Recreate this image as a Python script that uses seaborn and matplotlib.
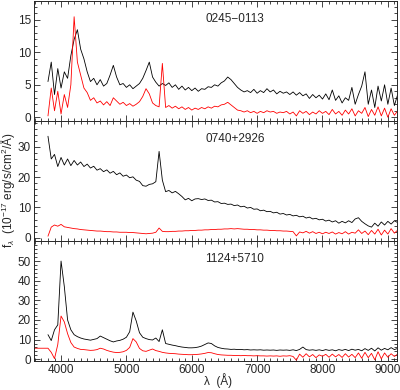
import matplotlib
matplotlib.use('Agg')
import matplotlib.pyplot as plt
from matplotlib.ticker import MultipleLocator, AutoMinorLocator
import seaborn as sns
import numpy as np

sns.set_style('ticks')
plt.rcParams['font.family'] = ['Liberation Sans', 'DejaVu Sans']
plt.rcParams['mathtext.fontset'] = 'custom'
plt.rcParams['mathtext.rm'] = 'Liberation Sans'
plt.rcParams['mathtext.it'] = 'Liberation Sans:italic'

# --- wavelength grid (A) ---
wave = [3800, 3850, 3900, 3950, 4000, 4050, 4100, 4150, 4200, 4250,
        4300, 4350, 4400, 4450, 4500, 4550, 4600, 4650, 4700, 4750,
        4800, 4850, 4900, 4950, 5000, 5050, 5100, 5150, 5200, 5250,
        5300, 5350, 5400, 5450, 5500, 5550, 5600, 5650, 5700, 5750,
        5800, 5850, 5900, 5950, 6000, 6050, 6100, 6150, 6200, 6250,
        6300, 6350, 6400, 6450, 6500, 6550, 6600, 6650, 6700, 6750,
        6800, 6850, 6900, 6950, 7000, 7050, 7100, 7150, 7200, 7250,
        7300, 7350, 7400, 7450, 7500, 7550, 7600, 7650, 7700, 7750,
        7800, 7850, 7900, 7950, 8000, 8050, 8100, 8150, 8200, 8250,
        8300, 8350, 8400, 8450, 8500, 8550, 8600, 8650, 8700, 8750,
        8800, 8850, 8900, 8950, 9000, 9050, 9100, 9150]

# --- 0245-0113 ---
black1 = [5.5, 8.5, 3.5, 7.5, 4.5, 7.0, 6.0, 9.5, 12.0, 13.5,
          10.5, 9.0, 7.0, 5.5, 6.0, 5.0, 5.8, 4.8, 5.2, 6.5,
          8.0, 6.2, 5.0, 5.2, 4.6, 5.0, 4.4, 4.8, 5.2, 6.0,
          7.2, 8.5, 6.2, 5.4, 4.8, 5.2, 4.9, 5.3, 4.6, 5.0,
          4.3, 4.8, 4.2, 4.6, 4.1, 4.5, 4.0, 4.4, 4.3, 4.7,
          4.6, 5.0, 4.8, 5.3, 5.6, 6.2, 5.8, 5.2, 4.6, 4.2,
          3.9, 4.1, 3.8, 4.3, 3.7, 4.1, 3.8, 4.4, 3.9, 4.2,
          3.6, 4.0, 3.7, 3.9, 3.5, 3.9, 3.4, 3.8, 3.3, 3.6,
          2.9, 3.5, 3.0, 3.4, 2.8, 3.6, 2.7, 4.2, 2.6, 3.3,
          2.2, 3.0, 2.6, 4.6, 2.0, 3.5, 4.8, 7.0, 2.0, 4.2,
          1.5, 4.8, 2.5, 5.0, 2.0, 4.5, 1.8, 3.5]
red1 = [0.2, 4.5, 1.0, 4.0, 0.5, 3.5, 1.5, 5.0, 15.5, 8.5,
        6.5, 4.5, 3.8, 2.6, 3.0, 2.2, 2.5, 1.9, 2.4, 1.8,
        3.0, 2.5, 2.0, 2.3, 1.8, 2.1, 1.7, 2.0, 2.4, 3.2,
        4.4, 3.6, 2.2, 1.8, 1.6, 8.3, 1.5, 1.8, 1.4, 1.7,
        1.3, 1.6, 1.2, 1.5, 1.1, 1.4, 1.2, 1.5, 1.3, 1.6,
        1.4, 1.7, 1.6, 1.9, 2.0, 2.3, 1.9, 1.5, 1.1, 1.0,
        0.8, 1.0, 0.7, 0.9, 0.6, 0.9, 0.7, 1.0, 0.8, 0.9,
        0.6, 0.8, 0.7, 0.9, 0.5, 0.8, 0.2, 1.0, 0.6, 0.9,
        0.4, 0.8, 0.5, 1.0, 0.6, 0.9, 0.4, 1.2, 0.5, 0.9,
        0.3, 1.1, 0.5, 1.3, 0.2, 1.0, 0.6, 1.5, 0.1, 1.2,
        0.3, 1.6, 0.2, 1.4, 0.0, 1.3, 0.3, 1.0]

# --- 0740+2926 ---
black2 = [33.5, 26.0, 27.5, 23.5, 26.5, 24.0, 26.0, 23.8, 25.5, 24.0,
          25.0, 23.5, 24.3, 23.0, 23.6, 22.3, 22.8, 21.8, 22.4, 21.3,
          21.9, 20.8, 21.4, 20.3, 20.7, 19.8, 20.1, 19.0, 18.6, 17.2,
          17.0, 17.6, 17.8, 18.5, 28.5, 19.0, 15.2, 15.6, 14.8, 15.3,
          14.5, 13.6, 12.5, 13.0, 12.2, 12.8, 12.9, 12.6, 12.8, 12.3,
          12.4, 11.8, 11.9, 11.3, 11.4, 11.0, 11.1, 10.6, 10.8, 10.2,
          10.4, 9.8, 10.0, 9.4, 9.5, 8.9, 9.1, 8.6, 8.7, 8.2,
          8.4, 7.8, 8.0, 7.5, 7.7, 7.2, 7.4, 6.9, 7.1, 6.5,
          6.8, 6.2, 6.4, 5.9, 6.1, 5.5, 5.8, 5.2, 5.6, 4.8,
          5.4, 4.9, 5.6, 5.0, 6.2, 6.6, 5.4, 4.6, 3.9, 3.5,
          4.8, 3.8, 5.2, 4.2, 5.4, 4.5, 5.6, 5.0]
red2 = [0.5, 3.5, 4.2, 3.8, 4.4, 3.6, 3.4, 3.2, 3.0, 2.9,
        2.7, 2.6, 2.5, 2.4, 2.3, 2.2, 2.2, 2.1, 2.0, 2.0,
        1.9, 1.9, 1.8, 1.8, 1.8, 1.7, 1.7, 1.6, 1.5, 1.4,
        1.3, 1.4, 1.5, 1.8, 3.2, 2.1, 2.0, 2.0, 2.1, 2.1,
        2.2, 2.2, 2.3, 2.3, 2.4, 2.4, 2.5, 2.5, 2.6, 2.6,
        2.7, 2.7, 2.8, 2.8, 2.9, 2.9, 3.0, 2.9, 3.0, 2.9,
        2.8, 2.8, 2.7, 2.7, 2.6, 2.6, 2.5, 2.5, 2.4, 2.4,
        2.3, 2.3, 2.2, 2.2, 2.1, 2.0, 0.6, 1.9, 1.6, 2.1,
        1.5, 2.0, 1.4, 1.8, 1.3, 1.8, 1.4, 1.9, 1.2, 1.7,
        1.3, 2.0, 1.2, 1.8, 1.5, 2.6, 1.4, 2.2, 1.0, 2.4,
        1.2, 2.8, 0.9, 2.5, 1.2, 3.0, 1.5, 2.5]

# --- 1124+5710 ---
black3 = [12.5, 9.5, 15.0, 17.5, 50.0, 37.0, 20.0, 15.0, 12.5, 11.5,
          10.8, 10.3, 10.0, 9.7, 10.1, 10.5, 11.8, 11.0, 10.2, 9.4,
          8.8, 9.3, 9.6, 10.2, 11.2, 14.0, 24.0, 19.5, 13.5, 11.2,
          10.5, 10.0, 9.8, 10.8, 9.0, 15.0, 8.0, 7.6, 7.2, 6.9,
          6.5, 6.2, 6.0, 5.8, 5.8, 5.9, 6.2, 6.7, 7.5, 8.3,
          8.0, 6.8, 6.0, 5.6, 5.3, 5.2, 5.0, 5.1, 4.9, 5.0,
          4.8, 4.9, 4.7, 4.8, 4.7, 4.8, 4.6, 4.7, 4.6, 4.7,
          4.5, 4.7, 4.6, 4.7, 4.5, 4.8, 4.4, 5.0, 6.2, 4.9,
          4.6, 4.8, 4.5, 4.8, 4.4, 4.9, 4.5, 4.8, 4.3, 4.9,
          4.5, 5.0, 4.4, 5.1, 4.6, 5.0, 4.3, 5.4, 4.5, 5.6,
          4.2, 5.8, 4.6, 5.5, 4.8, 5.9, 4.9, 5.5]
red3_wave = [3580] + wave
red3 = [5.6,
        5.6, 3.5, 0.3, 7.5, 22.0, 19.0, 13.0, 8.5, 6.2, 5.5,
        5.0, 4.9, 4.7, 4.5, 4.6, 4.9, 5.6, 5.2, 4.5, 4.0,
        3.6, 3.4, 3.5, 3.8, 4.5, 6.0, 10.5, 8.8, 5.5, 4.3,
        4.0, 4.6, 5.2, 4.4, 4.0, 3.5, 3.2, 3.0, 2.9, 2.8,
        2.6, 2.5, 2.4, 2.3, 2.3, 2.4, 2.5, 2.7, 3.0, 3.4,
        3.3, 2.8, 2.4, 2.2, 2.1, 2.0, 2.0, 1.9, 1.9, 1.8,
        1.9, 1.8, 1.8, 1.7, 1.8, 1.7, 1.7, 1.6, 1.7, 1.6,
        1.7, 1.5, 1.7, 1.6, 1.8, 1.4, -0.5, 2.6, 1.0, 2.8,
        1.2, 2.4, 0.8, 2.2, 1.5, 2.5, 1.0, 2.6, 1.2, 2.4,
        0.9, 2.8, 1.1, 2.5, 0.8, 3.2, 0.5, 3.5, 0.8, 3.0,
        -0.3, 3.8, 0.2, 3.2, 1.0, 2.8, 1.4, 2.6]

names = ['0245\u22120113', '0740+2926', '1124+5710']
ylims = [(-0.6, 17.9), (-1.1, 38.5), (-0.9, 60.2)]
yticks = [[0, 5, 10, 15], [0, 10, 20, 30], [0, 10, 20, 30, 40, 50]]
xticks = [4000, 5000, 6000, 7000, 8000, 9000]

fig, axes = plt.subplots(3, 1, figsize=(4.0, 3.9), dpi=100, sharex=True,
                         gridspec_kw=dict(hspace=0))
fig.subplots_adjust(left=0.084, right=0.9925, bottom=0.0744, top=0.997)

panels = [(wave, black1, wave, red1), (wave, black2, wave, red2),
          (wave, black3, red3_wave, red3)]

for ax, (wb, yb, wr, yr), name, ylim, yt in zip(axes, panels, names, ylims, yticks):
    sns.lineplot(x=wb, y=yb, ax=ax, color='black', lw=0.6, estimator=None)
    sns.lineplot(x=wr, y=yr, ax=ax, color='#ff0000', lw=0.6, estimator=None)
    ax.set_xlim(3580, 9140)
    ax.set_ylim(*ylim)
    ax.set_yticks(yt)
    ax.yaxis.set_minor_locator(AutoMinorLocator(5))
    ax.set_xticks(xticks)
    ax.xaxis.set_minor_locator(MultipleLocator(100))
    ax.tick_params(which='both', direction='in', top=True, right=True,
                   labelsize=8.5, width=0.6, pad=2)
    ax.tick_params(which='major', length=4.5)
    ax.tick_params(which='minor', length=2.2)
    for s in ax.spines.values():
        s.set_linewidth(0.7)
    ax.text(0.554, 0.85, name, transform=ax.transAxes, ha='center', va='center',
            fontsize=8.5)
    ax.set_ylabel('')

fig.text(0.545, 0.005, '\u03bb  (\u00c5)', ha='center', va='bottom', fontsize=8.5)
fig.text(0.02, 0.513, 'f$_\\lambda$  (10$^{-17}$ erg/s/cm$^2$/\u00c5)',
         rotation=90, ha='center', va='center', fontsize=8.5)

plt.savefig('out.png', dpi=100)
plt.close()
